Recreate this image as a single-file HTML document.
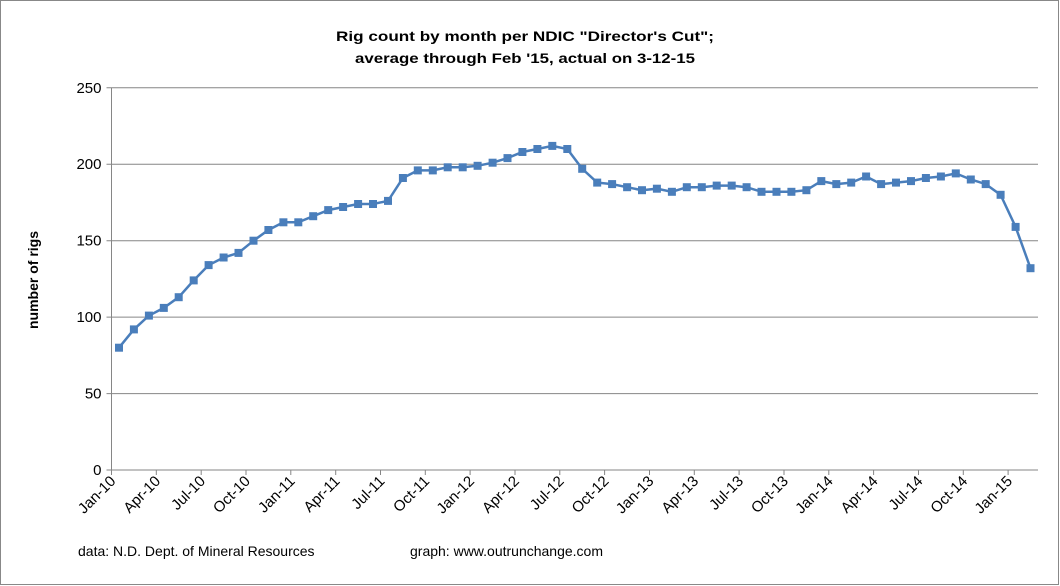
<!DOCTYPE html>
<html><head><meta charset="utf-8"><style>
html,body{margin:0;padding:0;background:#fff;}
svg{display:block;font-family:"Liberation Sans",sans-serif;}
</style></head><body>
<svg id="c" width="1060" height="586" viewBox="0 0 1060 586" xmlns="http://www.w3.org/2000/svg">
<rect x="0.5" y="0.5" width="1058" height="584" fill="#fff" stroke="#888"/>
<text x="525" y="41" text-anchor="middle" font-size="14" font-weight="bold" textLength="378" lengthAdjust="spacingAndGlyphs">Rig count by month per NDIC "Director's Cut";</text>
<text x="525" y="63" text-anchor="middle" font-size="14" font-weight="bold" textLength="340" lengthAdjust="spacingAndGlyphs">average through Feb '15, actual on 3-12-15</text>
<g id="grid" stroke="#868686" stroke-width="1"></g>
<g id="lab" font-size="14" fill="#000"></g>
<text transform="translate(38,280) rotate(-90)" text-anchor="middle" font-size="14" font-weight="bold">number of rigs</text>
<text x="78" y="556" font-size="14">data: N.D. Dept. of Mineral Resources</text>
<text x="410" y="556" font-size="14">graph:  www.outrunchange.com</text>
<g id="ser"></g>
</svg>
<script>
var d=[80,92,101,106,113,124,134,139,142,150,157,162,162,166,170,172,174,174,176,191,196,196,198,198,199,201,204,208,210,212,210,197,188,187,185,183,184,182,185,185,186,186,185,182,182,182,183,189,187,188,192,187,188,189,191,192,194,190,187,180,159,132];
var x0=111.5,x1=1038,cw=(x1-x0)/62,y0=470,k=(470-87.8)/250;
var g=document.getElementById('grid'),l=document.getElementById('lab'),s=document.getElementById('ser');
var h='';
for(var v=0;v<=250;v+=50){var y=(y0-v*k).toFixed(1);h+='<line x1="'+(x0-5)+'" x2="'+x1+'" y1="'+y+'" y2="'+y+'"/>';
l.innerHTML+='<text x="'+(x0-10)+'" y="'+(+y+5)+'" text-anchor="end" font-size="15">'+v+'</text>';}
h+='<line x1="'+x0+'" x2="'+x0+'" y1="87.8" y2="'+y0+'"/>';
var m=['Jan','Apr','Jul','Oct'],lt='';
for(var i=0;i<=62;i++){var x=(x0+i*cw).toFixed(1);if(i%3==0){h+='<line x1="'+x+'" x2="'+x+'" y1="'+y0+'" y2="'+(y0+5)+'"/>';}
if(i%3==0&&i<62){var yr=10+Math.floor(i/12);var lab=m[(i%12)/3]+'-'+yr;lt+='<text transform="translate('+(+x+5)+','+(y0+12)+') rotate(-45)" text-anchor="end" font-size="15">'+lab+'</text>';}}
g.innerHTML=h;l.innerHTML+=lt;
var p=[],r='';
for(var i=0;i<d.length;i++){var x=x0+(i+0.5)*cw,y=y0-d[i]*k;p.push(x.toFixed(1)+','+y.toFixed(1));r+='<rect x="'+(x-4).toFixed(1)+'" y="'+(y-4).toFixed(1)+'" width="8" height="8" fill="#4a7ebb"/>';}
s.innerHTML='<polyline points="'+p.join(' ')+'" fill="none" stroke="#4a7ebb" stroke-width="2.5"/>'+r;
</script>
</body></html>
